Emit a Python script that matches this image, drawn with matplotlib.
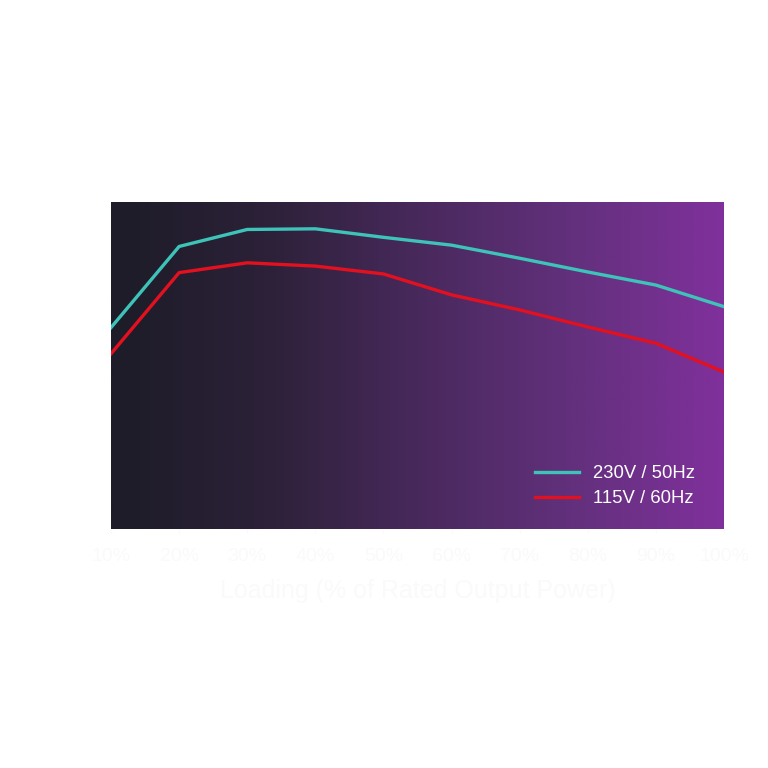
import numpy as np
import matplotlib
matplotlib.use("Agg")
import matplotlib.pyplot as plt
from matplotlib.colors import LinearSegmentedColormap

plt.rcParams["font.family"] = ["Liberation Sans", "DejaVu Sans"]

loading = [10, 20, 30, 40, 50, 60, 70, 80, 90, 100]
tick_labels = ["10%", "20%", "30%", "40%", "50%", "60%", "70%", "80%", "90%", "100%"]
eff_230 = [85.4, 91.6, 92.9, 92.95, 92.3, 91.7, 90.7, 89.65, 88.65, 87.0]
eff_115 = [83.4, 89.6, 90.35, 90.1, 89.5, 87.9, 86.75, 85.45, 84.2, 82.0]
series_names = ["230V / 50Hz", "115V / 60Hz"]

fig = plt.figure(figsize=(7.68, 7.68), dpi=100)
ax = fig.add_axes([111/768, 1 - 529/768, 613/768, 327/768])

cmap = LinearSegmentedColormap.from_list("bg", ["#1d1c28", "#2c2138", "#48295c", "#62307c", "#80309c"])
grad = np.linspace(0, 1, 512).reshape(1, -1)
ax.imshow(grad, extent=[0, 1, 0, 1], transform=ax.transAxes, aspect="auto",
          cmap=cmap, zorder=0)

ax.plot(loading, eff_230, color="#3ec3b9", lw=2.4, label=series_names[0], zorder=3)
ax.plot(loading, eff_115, color="#e3101f", lw=2.4, label=series_names[1], zorder=3)

ax.set_xlim(10, 100)
ax.set_ylim(70, 95)
ax.set_xticks(loading)
ax.set_xticklabels(tick_labels, fontsize=14, color="#fafafa")
ax.tick_params(axis="x", colors="#fafafa", length=3, pad=11)
ax.set_yticks([])
ax.set_xlabel("Loading (% of Rated Output Power)", fontsize=18, color="#fafafa", labelpad=10)
for s in ax.spines.values():
    s.set_visible(False)

leg = ax.legend(loc="lower right", bbox_to_anchor=(0.98, 0.015), frameon=False,
                fontsize=13.3, handlelength=2.4, handletextpad=0.75, labelspacing=0.45)
for t in leg.get_texts():
    t.set_color("white")

fig.savefig("out.png", dpi=100)
